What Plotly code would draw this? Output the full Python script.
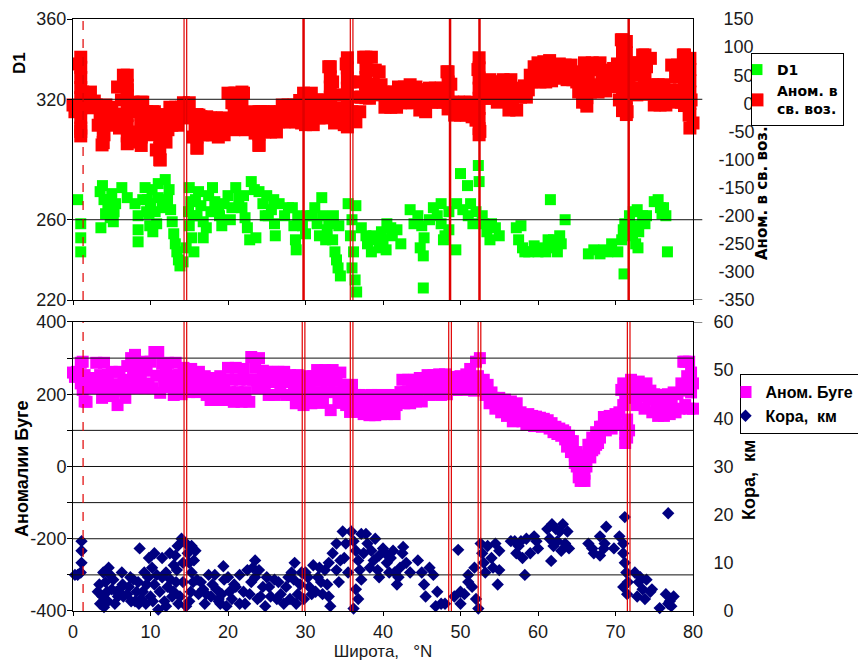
import plotly.graph_objects as go

# ---------------- DATA ----------------
# common latitude grid of the two gravity profiles (deg N)
profile_lat = [
    0.0, 0.25, 0.5, 0.75, 1.0, 1.25, 1.5, 1.75, 2.0, 2.25, 2.5, 2.75, 3.0, 3.25, 3.5, 3.75,
    4.0, 4.25, 4.5, 4.75, 5.0, 5.25, 5.5, 5.75, 6.0, 6.25, 6.5, 6.75, 7.0, 7.25, 7.5, 7.75,
    8.0, 8.25, 8.5, 8.75, 9.0, 9.25, 9.5, 9.75, 10.0, 10.25, 10.5, 10.75, 11.0, 11.25, 11.5, 11.75,
    12.0, 12.25, 12.5, 12.75, 13.0, 13.25, 13.5, 13.75, 14.0, 14.25, 14.5, 14.75, 15.0, 15.25, 15.5, 15.75,
    16.0, 16.25, 16.5, 16.75, 17.0, 17.25, 17.5, 17.75, 18.0, 18.25, 18.5, 18.75, 19.0, 19.25, 19.5, 19.75,
    20.0, 20.25, 20.5, 20.75, 21.0, 21.25, 21.5, 21.75, 22.0, 22.25, 22.5, 22.75, 23.0, 23.25, 23.5, 23.75,
    24.0, 24.25, 24.5, 24.75, 25.0, 25.25, 25.5, 25.75, 26.0, 26.25, 26.5, 26.75, 27.0, 27.25, 27.5, 27.75,
    28.0, 28.25, 28.5, 28.75, 29.0, 29.25, 29.5, 29.75, 30.0, 30.25, 30.5, 30.75, 31.0, 31.25, 31.5, 31.75,
    32.0, 32.25, 32.5, 32.75, 33.0, 33.25, 33.5, 33.75, 34.0, 34.25, 34.5, 34.75, 35.0, 35.25, 35.5, 35.75,
    36.0, 36.25, 36.5, 36.75, 37.0, 37.25, 37.5, 37.75, 38.0, 38.25, 38.5, 38.75, 39.0, 39.25, 39.5, 39.75,
    40.0, 40.25, 40.5, 40.75, 41.0, 41.25, 41.5, 41.75, 42.0, 42.25, 42.5, 42.75, 43.0, 43.25, 43.5, 43.75,
    44.0, 44.25, 44.5, 44.75, 45.0, 45.25, 45.5, 45.75, 46.0, 46.25, 46.5, 46.75, 47.0, 47.25, 47.5, 47.75,
    48.0, 48.25, 48.5, 48.75, 49.0, 49.25, 49.5, 49.75, 50.0, 50.25, 50.5, 50.75, 51.0, 51.25, 51.5, 51.75,
    52.0, 52.25, 52.5, 52.75, 53.0, 53.25, 53.5, 53.75, 54.0, 54.25, 54.5, 54.75, 55.0, 55.25, 55.5, 55.75,
    56.0, 56.25, 56.5, 56.75, 57.0, 57.25, 57.5, 57.75, 58.0, 58.25, 58.5, 58.75, 59.0, 59.25, 59.5, 59.75,
    60.0, 60.25, 60.5, 60.75, 61.0, 61.25, 61.5, 61.75, 62.0, 62.25, 62.5, 62.75, 63.0, 63.25, 63.5, 63.75,
    64.0, 64.25, 64.5, 64.75, 65.0, 65.25, 65.5, 65.75, 66.0, 66.25, 66.5, 66.75, 67.0, 67.25, 67.5, 67.75,
    68.0, 68.25, 68.5, 68.75, 69.0, 69.25, 69.5, 69.75, 70.0, 70.25, 70.5, 70.75, 71.0, 71.25, 71.5, 71.75,
    72.0, 72.25, 72.5, 72.75, 73.0, 73.25, 73.5, 73.75, 74.0, 74.25, 74.5, 74.75, 75.0, 75.25, 75.5, 75.75,
    76.0, 76.25, 76.5, 76.75, 77.0, 77.25, 77.5, 77.75, 78.0, 78.25, 78.5, 78.75, 79.0, 79.25, 79.5, 79.75,
    80.0,
]

# free-air anomaly (right axis of the upper panel)
free_air = [
    -3, -15, -10, 70, -50, 20, 18, -6, 6, 20, -8, 4, -3, -39, -21, -74,
    -56, -3, -39, -21, -7, -33, -19, 29, -44, 6, 50, -30, 24, -56, -3, 2,
    -51, -15, -69, -33, 2, -51, -15, -56, -35, -15, -15, -83, -39, -101, -62, -26,
    -69, -47, -7, -39, -22, -7, -39, -22, -7, 1, -26, -13, 1, -21, -60, -40,
    -79, -21, -24, -56, -40, -24, -56, -26, -56, -40, -26, -60, -40, -26, -56, -40,
    18, -35, 1, -47, 18, -17, 1, -35, 18, -47, -21, -44, -31, -15, -53, -33,
    -74, -15, -15, -51, -33, -15, -51, -33, -15, -51, -33, -15, -3, -33, -17, -3,
    -33, -17, -3, -33, -17, 5, -35, 18, -38, 1, -19, 18, -38, 1, 6, -26,
    -12, 6, -26, -12, 65, 11, 38, -35, -15, 15, -30, -8, -38, 70, -20, 38,
    -15, 11, -33, 38, -15, 11, 82, 34, 59, 9, 82, 34, 59, 15, 56, 33,
    20, -7, 6, 20, -7, 6, 20, -7, 29, 1, 15, 29, 1, 15, 33, 1,
    15, 29, 24, -12, 6, 24, -15, 6, 27, 2, 15, 27, 2, 15, 27, 2,
    13, 56, -8, 34, 2, -21, -8, 2, -21, -8, 2, -21, -8, 2, -24, -8,
    -30, 60, -50, 20, 38, 9, 24, 42, 9, 24, 38, 2, 24, 38, 42, 6,
    24, -12, 42, 6, 24, -12, 27, 11, 20, 31, 11, 24, 50, 38, 65, 45,
    72, 38, 56, 74, 38, 56, 76, 40, 68, 45, 56, 70, 45, 58, 68, 42,
    56, 68, 42, 56, 38, 20, 50, 2, 72, 2, 50, 20, 72, 33, 60, 20,
    72, 38, 56, 22, 59, 30, 45, 62, 30, 70, 6, 113, 27, 91, -15, 49,
    72, 27, 50, 15, 72, 27, 86, 43, 65, 20, 80, 33, -3, 15, 33, -3,
    15, 33, -3, 15, 24, 68, 2, 47, 68, 24, 2, 86, 33, 59, -21, 6,
    -35,
]

# additional free-air readings where the profile spikes
free_air_extra_lat = [
    1.0, 1.0, 1.0, 1.0, 1.0, 1.0, 1.0, 1.0, 1.0,
    3.9, 3.9, 3.9, 3.9,
    7.0, 7.0, 7.0, 7.0, 7.0, 7.0, 7.0, 7.0,
    8.8, 8.8, 8.8, 8.8, 8.8,
    11.2, 11.2, 11.2, 11.2, 11.2,
    16.0, 16.0, 16.0, 16.0,
    20.8, 20.8, 20.8, 20.8,
    21.8, 21.8, 21.8, 21.8,
    24.0, 24.0, 24.0, 24.0,
    33.2, 33.2, 33.2, 33.2, 33.2, 33.2,
    35.4, 35.4, 35.4, 35.4, 35.4, 35.4, 35.4, 35.4,
    37.8, 37.8, 37.8, 37.8, 37.8,
    48.4, 48.4, 48.4, 48.4, 48.4,
    52.4, 52.4, 52.4, 52.4, 52.4, 52.4, 52.4, 52.4, 52.4,
    66.3, 66.3, 66.3, 66.3, 66.3,
    70.9, 70.9, 70.9, 70.9, 70.9, 70.9, 70.9, 70.9,
    71.4, 71.4, 71.4, 71.4, 71.4, 71.4, 71.4, 71.4,
    73.8, 73.8, 73.8, 73.8, 73.8,
    78.9, 78.9, 78.9, 78.9, 78.9, 78.9,
    79.6, 79.6, 79.6, 79.6, 79.6, 79.6, 79.6,
    80.3, 80.3, 80.3, 80.3,
]
free_air_extra = [
    82, 64, 46, 28, 10, -8, -26, -44, -58,
    -10, -30, -50, -70,
    50, 32, 14, -4, -22, -40, -58, -72,
    2, -20, -40, -60, -75,
    -20, -40, -60, -80, -100,
    -20, -40, -60, -80,
    18, 0, -18, -36,
    20, 0, -20, -45,
    -15, -35, -55, -75,
    65, 47, 29, 11, -7, -25,
    81, 63, 45, 27, 9, -9, -27, -42,
    82, 64, 46, 28, 10,
    56, 38, 20, 2, -10,
    81, 63, 45, 27, 9, -9, -27, -45, -56,
    70, 50, 30, 10, -5,
    113, 95, 77, 59, 41, 23, 5, -13,
    110, 90, 70, 50, 30, 10, -10, -20,
    86, 68, 50, 32, 16,
    86, 68, 50, 32, 14, -4,
    80, 60, 40, 20, 0, -20, -44,
    10, -10, -30, -46,
]

# D1 (left axis of the upper panel)
d1_lat = [
    0.6, 1.0, 1.0, 1.0,
    3.5, 4.0, 4.5, 5.0, 5.5, 4.2, 3.6, 4.8, 5.2, 3.8, 4.7, 5.3,
    6.3, 7.0, 8.0, 8.4, 8.4, 8.4,
    9.3, 9.6, 9.8, 9.9, 10.3, 10.2, 10.6, 11.0, 11.0, 11.5, 11.9, 9.0, 9.5, 10.0, 10.8,
    12.2, 12.6, 12.8, 13.0, 13.2, 13.4, 13.6, 13.8, 14.2, 14.6, 12.4, 14.9,
    15.0, 15.2, 15.5, 15.0, 15.3, 15.6, 15.8, 16.0,
    16.2, 16.5, 16.8, 17.2, 16.8, 17.5, 17.8,
    18.0, 18.3, 18.8, 18.9, 19.2, 19.5, 20.3,
    20.0, 20.5, 21.0, 21.4, 21.8, 22.2, 22.5, 22.8, 22.0,
    23.0, 23.4, 23.6,
    24.0, 24.5, 25.0, 25.6, 25.2, 26.1, 26.6, 27.3, 24.8, 25.9, 26.0, 27.8,
    28.3, 28.5, 28.7, 28.8, 29.0, 29.3, 29.6, 30.0, 30.2,
    30.8, 31.5, 31.8, 32.1, 32.2, 32.6, 33.0, 33.5, 33.6, 33.8, 34.0, 34.2, 34.3, 34.5, 31.2, 32.8,
    35.5, 35.8, 36.0, 36.2, 36.0, 36.4, 36.5, 36.6,
    37.8, 38.0, 38.5, 39.2, 39.5, 39.8, 40.0, 40.4, 37.2, 38.8,
    40.5, 41.0, 41.2, 41.8, 42.3,
    43.5, 44.5, 45.0, 45.3, 44.8, 45.2, 45.2, 44.0,
    46.5, 47.0, 47.5, 47.5, 48.0, 47.8, 48.5, 48.5, 46.0,
    49.4, 49.5, 50.0, 50.3, 50.9, 51.0, 51.6, 52.0, 52.3, 52.4, 52.8, 51.3,
    53.0, 53.4, 53.8, 54.5, 55.0, 54.0,
    57.2, 57.5, 57.8, 58.0, 58.3, 59.5, 60.0, 60.5, 58.8, 61.0,
    61.3, 61.6, 61.8, 62.5, 62.8, 63.0, 63.5, 62.0,
    66.5, 67.2, 68.0, 68.5, 69.0, 69.5, 70.3, 70.8, 71.0, 71.2, 71.1,
    71.8, 72.3, 72.8, 73.5, 74.0, 72.5, 73.0, 72.2, 72.6, 72.9, 73.8,
    75.0, 75.5, 76.2, 76.5, 76.0, 76.7, 75.8,
]
d1_val = [
    270, 258, 251, 244,
    274, 270, 266, 273, 268, 263, 256, 261, 259, 277, 270, 264,
    276, 271, 268, 262, 255, 249,
    276, 270, 263, 257, 254, 275, 264, 271, 278, 266, 280, 270, 264, 268, 258,
    270, 265, 259, 253, 248, 244, 240, 237, 239, 246, 275, 264,
    276, 269, 262, 257, 251, 244, 270, 262,
    274, 267, 259, 256, 251, 272, 264,
    276, 269, 266, 262, 257, 268, 260,
    272, 266, 276, 271, 266, 261, 256, 250, 272,
    279, 275, 251,
    274, 268, 272, 265, 262, 252, 268, 262, 262, 270, 258, 266,
    266, 257, 250, 245, 262, 261, 257, 253, 262,
    262, 258, 252, 271, 262, 250, 258, 250, 262, 244, 240, 236, 257, 232, 266, 255,
    268, 252, 260, 244, 236, 230, 267, 224,
    252, 248, 244, 250, 246, 254, 250, 245, 256, 252,
    258, 256, 252, 255, 248,
    265, 262, 257, 251, 246, 242, 226, 258,
    266, 262, 268, 258, 252, 250, 264, 255, 260,
    245, 268, 283, 265, 277, 262, 258, 264, 287, 279, 262, 268,
    258, 254, 250, 256, 252, 258,
    256, 250, 257, 246, 244, 247, 244, 246, 244, 244,
    250, 270, 246, 244, 252, 248, 260, 250,
    243, 245, 243, 245, 244, 248, 244, 250, 255, 258, 233,
    262, 264, 265, 262, 262, 257, 254, 252, 248, 246, 258,
    269, 270, 266, 262, 263, 244, 266,
]

# Bouguer anomaly (left axis of the lower panel)
bouguer = [
    260, 248, 262, 250, 287, 212, 253, 179, 245, 217, 232, 245, 287, 220, 253, 190,
    287, 220, 253, 200, 262, 195, 228, 170, 262, 210, 240, 190, 278, 217, 300, 248,
    309, 217, 278, 248, 290, 217, 265, 230, 290, 217, 317, 251, 317, 204, 284, 230,
    260, 287, 220, 253, 198, 287, 220, 253, 200, 273, 217, 245, 206, 270, 225, 250,
    206, 262, 220, 240, 250, 198, 226, 184, 245, 200, 226, 184, 250, 195, 226, 184,
    273, 206, 240, 179, 273, 206, 240, 179, 270, 206, 240, 179, 303, 240, 273, 217,
    300, 240, 265, 217, 262, 198, 234, 262, 198, 234, 262, 205, 234, 262, 198, 234,
    253, 198, 226, 175, 253, 198, 226, 170, 250, 198, 226, 175, 250, 198, 267, 206,
    237, 176, 267, 206, 237, 156, 267, 206, 237, 176, 260, 200, 226, 170, 198, 151,
    226, 170, 198, 151, 198, 165, 145, 195, 170, 142, 198, 170, 142, 198, 170, 145,
    195, 168, 145, 198, 162, 190, 145, 170, 195, 206, 240, 175, 206, 240, 175, 210,
    240, 180, 206, 245, 180, 215, 245, 253, 198, 226, 253, 200, 226, 255, 198, 226,
    255, 200, 245, 212, 230, 248, 212, 230, 250, 212, 232, 255, 217, 270, 240, 210,
    290, 250, 300, 215, 240, 198, 226, 175, 205, 190, 160, 175, 190, 150, 170, 185,
    140, 165, 180, 125, 160, 175, 140, 150, 125, 140, 115, 145, 125, 140, 112, 138,
    120, 135, 110, 132, 118, 128, 105, 120, 95, 110, 90, 105, 85, 100, 75, 80,
    60, 70, 40, 30, 0, -30, -40, -20, -40, 0, 30, 60, 45, 75, 60, 90,
    80, 110, 137, 100, 125, 140, 105, 130, 145, 115, 150, 212, 170, 90, 130, 190,
    240, 200, 225, 170, 235, 195, 220, 160, 230, 185, 210, 150, 200, 175, 140, 170,
    198, 140, 175, 200, 145, 180, 205, 150, 200, 160, 230, 290, 170, 250, 290, 205,
    160,
]

# additional Bouguer readings where the profile is steep or broad
bouguer_extra_lat = [
    1.0, 1.25, 1.5,
    63.5, 63.75, 64.0, 64.25, 64.5, 64.75, 65.0, 65.25, 65.5, 65.75,
    66.0, 66.25, 66.5, 66.75, 67.0, 67.25, 67.5, 67.75, 68.0,
    71.0, 71.25, 71.25, 71.5, 71.75,
    79.0, 79.25, 79.5, 79.75, 80.0, 80.25, 80.5,
]
bouguer_extra = [
    230, 290, 180,
    95, 55, 85, 40, 70, 10, 40, 10, -10, 10,
    -20, 30, 60, 25, 80, 50, 95, 65, 110,
    230, 200, 65, 80, 100,
    290, 210, 160, 260, 230, 175, 200,
]

# crust thickness, km (right axis of the lower panel)
crust_lat = [
    0.25, 0.6, 1.1, 1.1, 1.1, 1.0,
    3.4, 3.8, 4.2, 4.5, 5.0, 5.4, 3.5, 4.8, 3.9, 4.6, 3.2, 4.0, 4.4, 5.2, 5.6,
    5.8, 6.0, 6.3, 6.5, 6.4,
    7.2, 7.5, 7.8, 8.2, 8.5, 8.6, 8.8, 9.5, 10.0, 9.2, 7.0, 7.4, 8.0, 8.4, 9.0, 9.4, 9.7,
    9.8, 10.2, 10.5, 10.8, 11.0, 10.5, 10.3, 11.2,
    11.5, 11.8, 12.0, 12.2, 12.5, 12.8, 13.0, 13.2, 13.3, 13.5, 13.6, 14.0,
    11.5, 12.0, 12.6, 13.0, 13.4, 13.8, 14.2, 14.2,
    14.6, 14.6, 14.8, 15.0, 15.0, 15.2, 15.3, 15.3, 15.5, 15.6, 15.8,
    16.2, 16.5, 17.2, 17.5, 18.0, 18.8, 18.8, 19.0, 19.4, 19.5, 19.8, 20.2,
    16.0, 16.8, 17.0, 17.8, 18.3, 18.5, 19.2, 20.0, 20.5, 20.8,
    21.0, 21.5, 21.5, 22.0, 22.2, 22.5, 23.0, 23.2, 23.5, 23.8, 24.0, 24.5, 24.8, 25.0, 25.5, 26.0, 26.5, 26.3,
    22.8, 23.5, 24.2, 25.3, 26.8,
    27.2, 27.5, 28.0, 28.2, 28.5, 28.6, 29.0, 29.5, 27.8, 28.8, 29.3, 29.8,
    30.0, 30.5, 30.8, 31.0, 31.6, 32.0, 32.5, 33.0, 33.0, 33.2, 33.5, 34.0, 34.0, 34.5, 34.8, 35.2,
    30.3, 31.3, 31.8, 32.2, 32.8, 34.3, 35.0, 35.5,
    35.9, 36.2, 36.5, 36.8, 37.0, 37.2, 36.5, 36.8, 36.2, 37.2,
    37.8, 38.0, 38.3, 38.5, 39.0, 39.3, 39.5, 39.5, 40.0, 40.3, 40.5, 37.5, 38.8,
    41.0, 41.5, 41.8, 42.0, 42.5, 42.6, 43.0, 43.5, 40.8, 41.3, 42.2,
    44.5, 45.0, 45.3, 45.5, 46.0,
    46.5, 47.0, 47.5, 46.8, 48.0,
    49.2, 49.7, 50.0, 50.0, 50.5, 51.0, 51.0, 51.5, 51.8, 52.0, 52.3,
    52.6, 52.8, 53.0, 53.2, 53.5, 54.0, 54.2, 54.5, 54.8, 55.0, 55.0,
    56.5, 57.0, 57.2, 57.5, 57.8, 58.0, 58.3, 58.5, 59.0, 59.5, 59.8, 60.0,
    61.2, 61.5, 61.7, 61.8, 62.0, 62.3, 62.5, 62.8, 63.0, 63.2, 63.5, 63.8, 64.0,
    66.5, 67.0, 67.2, 68.0, 68.0, 68.5, 68.6, 68.8, 69.8, 70.5,
    71.0, 71.2, 71.0, 71.2, 71.4, 71.6, 71.0, 71.5,
    72.5, 72.8, 73.0, 73.2, 73.5, 73.8, 74.0, 74.5, 74.7, 75.7,
    76.5, 76.8, 76.8, 77.0, 77.2, 77.5,
]
crust_km = [
    7.5, 7.5, 14.5, 12.5, 10, 8,
    5.5, 3, 6, 2, 4.5, 1.5, 1.5, 7.5, 8, 9, 4, 0.8, 4, 6.5, 4,
    3, 4.5, 8, 3, 5.5,
    5, 2, 6.5, 4, 1.5, 13, 2.5, 5.5, 3, 8, 3.5, 7, 2, 6, 4, 1.5, 7,
    11, 9, 12, 7.5, 0.3, 5.5, 2, 4,
    11, 2, 8, 5, 12, 3, 9.5, 11.5, 6, 13.5, 1.5, 15,
    7, 1, 6.5, 4, 8.5, 3, 6, 10,
    14, 1, 12, 10, 2, 4, 8, 13.5, 6, 10.5, 12.5,
    3.5, 6, 3.5, 7.5, 5.5, 2.5, 2, 1.5, 9.3, 6.5, 1, 4,
    6.5, 4.5, 1.5, 3, 7.5, 4.5, 3.5, 7, 2.5, 5.5,
    5, 7.5, 1.5, 4, 1.5, 8.5, 6, 9, 10.5, 2.5, 8.5, 5, 1, 7, 3, 6.5, 6, 2.5,
    3.5, 7, 3, 5, 3.5,
    1.5, 5, 2.5, 8, 6.5, 10, 3.5, 8, 7, 1.5, 5.5, 2.5,
    8, 5, 3.5, 9.5, 7, 6, 8.5, 10, 3, 1, 12, 8.5, 14, 10.5, 16.5, 14,
    7, 4, 9, 3.5, 5.5, 6, 11, 8,
    16.5, 14.5, 12.5, 10.5, 8.5, 6.5, 4.5, 2.5, 0.5, 16,
    16, 14, 9, 12.5, 15, 8.5, 11.5, 7, 13, 12, 10, 12, 10.5,
    11, 8, 5.5, 7, 12, 13.3, 10, 8, 8, 12.5, 9,
    10.5, 8, 5.5, 3, 9,
    7.5, 4, 1.5, 1, 1.5,
    3, 12.7, 4, 1.5, 3.5, 6, 7.5, 5, 9, 2.5, 0.5,
    14, 12, 10, 8, 13.5, 11, 9, 14, 5.5, 12.5, 8.5,
    14.5, 14.5, 12, 13.5, 14.5, 11, 7.5, 15, 12, 15.5, 14.5, 13,
    17, 15, 10.4, 18, 13.5, 17, 14.5, 16.5, 12.5, 18, 14, 16.5, 13,
    14, 13, 12, 15.5, 11.5, 13, 14, 17.5, 13, 15.5,
    14, 19.5, 12, 10, 8, 6, 5, 3.5,
    8, 3, 6, 7, 4.5, 2.5, 6.5, 4, 4.5, 0.6,
    3.5, 1.5, 20.3, 2, 1, 3,
]

# boundary latitudes marked with red verticals
boundary_dashed = [1.3]
boundary_lat = [14.5, 29.75, 35.95, 48.65, 52.45, 71.7]
boundary_bold_top = [29.75, 48.65, 52.45, 71.7]

# tick labels
d1_ticks = [220, 260, 320, 360]
fa_ticks = [-350, -300, -250, -200, -150, -100, -50, 0, 50, 100, 150]
bouguer_ticks = [-400, -300, -200, -100, 0, 100, 200, 300, 400]
bouguer_tick_labels = ["-400", "", "-200", "", "0", "", "200", "", "400"]
crust_ticks = [0, 10, 20, 30, 40, 50, 60]
lat_ticks = [0, 10, 20, 30, 40, 50, 60, 70, 80]

# ---------------- FIGURE ----------------
NB = "\u00a0"


def pad_left(labels, width):
    out = []
    for s in labels:
        s = str(s)
        n_digits = sum(c.isdigit() for c in s)
        has_minus = s.startswith("-")
        cur = n_digits * 0.556 + (0.333 if has_minus else 0)
        pad = int(round((width - cur) / 0.278))
        out.append(NB * max(pad, 0) + s)
    return out


TICK_FONT = dict(family="Liberation Sans, Arial, sans-serif", size=18, color="#1a1a1a")
RED = "#ff0000"
LINE_RED = "#e00000"

fig = go.Figure()

fig.add_trace(go.Scatter(
    x=d1_lat, y=d1_val, mode="markers", name="D1",
    marker=dict(symbol="square", size=11, color="#00ff00", line=dict(width=0)),
    xaxis="x", yaxis="y", legend="legend", cliponaxis=False,
))
fig.add_trace(go.Scatter(
    x=profile_lat, y=free_air, mode="markers", name="Аном. в<br>св. воз.",
    marker=dict(symbol="square", size=13, color=RED, line=dict(width=0)),
    xaxis="x", yaxis="y2", legend="legend", cliponaxis=False,
))
fig.add_trace(go.Scatter(
    x=free_air_extra_lat, y=free_air_extra, mode="markers", showlegend=False,
    marker=dict(symbol="square", size=13, color=RED, line=dict(width=0)),
    xaxis="x", yaxis="y2", cliponaxis=False, hoverinfo="skip",
))
fig.add_trace(go.Scatter(
    x=profile_lat, y=bouguer, mode="markers", name="Аном. Буге",
    marker=dict(symbol="square", size=12, color="#ff00ff", line=dict(width=0)),
    xaxis="x2", yaxis="y3", legend="legend2", cliponaxis=False,
))
fig.add_trace(go.Scatter(
    x=bouguer_extra_lat, y=bouguer_extra, mode="markers", showlegend=False,
    marker=dict(symbol="square", size=12, color="#ff00ff", line=dict(width=0)),
    xaxis="x2", yaxis="y3", cliponaxis=False, hoverinfo="skip",
))
fig.add_trace(go.Scatter(
    x=crust_lat, y=crust_km, mode="markers", name="Кора,\u00a0\u00a0км",
    marker=dict(symbol="diamond", size=9.5, color="#000080", line=dict(width=0)),
    xaxis="x2", yaxis="y4", legend="legend2", cliponaxis=False,
))

TOP_DOM = [0.5253, 1.0]
BOT_DOM = [0.0, 0.4882]

axis_common = dict(showline=True, linecolor="black", linewidth=1, zeroline=False,
                   showgrid=False, tickfont=TICK_FONT, automargin=False)

fig.update_layout(
    width=858, height=661,
    margin=dict(l=73, r=165, t=19, b=50, autoexpand=False),
    paper_bgcolor="white", plot_bgcolor="white",
    xaxis=dict(domain=[0, 1], anchor="y", range=[0, 80], tickvals=lat_ticks,
               showticklabels=False, ticks="outside", ticklen=4, tickcolor="black",
               mirror=True, **axis_common),
    yaxis=dict(domain=TOP_DOM, anchor="x", range=[220, 360], tickvals=d1_ticks,
               ticks="outside", ticklen=5, tickcolor="black", mirror=True,
               ticklabelstandoff=-3, **axis_common),
    yaxis2=dict(overlaying="y", side="right", anchor="x", range=[-350, 150],
                tickvals=fa_ticks, ticktext=pad_left(fa_ticks, 2.0),
                ticks="", ticklabelstandoff=21, **axis_common),
    xaxis2=dict(domain=[0, 1], anchor="y3", range=[0, 80], tickvals=lat_ticks,
                ticks="outside", ticklen=4, tickcolor="black", mirror=True,
                title=dict(text="Широта,\u00a0\u00a0\u00a0°N", standoff=2,
                           font=dict(family="Liberation Sans, Arial, sans-serif", size=17, color="#1a1a1a")),
                **axis_common),
    yaxis3=dict(domain=BOT_DOM, anchor="x2", range=[-400, 400], tickvals=bouguer_ticks,
                ticktext=bouguer_tick_labels, ticks="outside", ticklen=5, tickcolor="black",
                mirror=True, ticklabelstandoff=-3, **axis_common),
    yaxis4=dict(overlaying="y3", side="right", anchor="x2", range=[0, 60],
                tickvals=crust_ticks, ticktext=pad_left(crust_ticks, 1.112),
                ticks="", ticklabelstandoff=16, **axis_common),
    legend=dict(x=1.0935, y=0.9426, xanchor="left", yanchor="top",
                bgcolor="white", bordercolor="black", borderwidth=1,
                font=dict(family="DejaVu Sans, sans-serif", size=14, color="black", weight="bold"),
                itemwidth=30, indentation=-15, tracegroupgap=0),
    legend2=dict(x=1.075, y=0.4003, xanchor="left", yanchor="top",
                 bgcolor="white", bordercolor="black", borderwidth=1,
                 font=dict(family="Liberation Sans, Arial, sans-serif", size=16, color="black", weight="bold"),
                 itemwidth=30, indentation=-15, tracegroupgap=0),
    showlegend=True,
)

# rotated axis captions
bold_lib = dict(family="Liberation Sans, Arial, sans-serif", size=17, color="black", weight="bold")
fig.add_annotation(text="D1", xref="paper", yref="paper", x=-0.0855, y=0.9257,
                   textangle=-90, showarrow=False, xanchor="center", yanchor="middle", font=bold_lib)
fig.add_annotation(text="Аном. в св. воз.", xref="paper", yref="paper", x=1.1113, y=0.7061,
                   textangle=-90, showarrow=False, xanchor="center", yanchor="middle",
                   font=dict(family="DejaVu Sans, sans-serif", size=15, color="black", weight="bold"))
fig.add_annotation(text="Аномалии Буге", xref="paper", yref="paper", x=-0.0823, y=0.2416,
                   textangle=-90, showarrow=False, xanchor="center", yanchor="middle",
                   font=dict(family="Liberation Sans, Arial, sans-serif", size=18, color="black", weight="bold"))
fig.add_annotation(text="Кора,\u00a0\u00a0км", xref="paper", yref="paper", x=1.0903, y=0.2213,
                   textangle=-90, showarrow=False, xanchor="center", yanchor="middle",
                   font=dict(family="Liberation Sans, Arial, sans-serif", size=18, color="black", weight="bold"))

shapes = []
for v in d1_ticks[1:3]:
    shapes.append(dict(type="line", xref="x domain", yref="y", x0=0, x1=1.015, y0=v, y1=v,
                       line=dict(color="#111111", width=1), layer="above"))
shapes.append(dict(type="line", xref="x domain", yref="y", x0=1.0, x1=1.015, y0=220, y1=220,
                   line=dict(color="#111111", width=1), layer="above"))
for v in bouguer_ticks[1:-1]:
    shapes.append(dict(type="line", xref="x2 domain", yref="y3", x0=0, x1=1, y0=v, y1=v,
                       line=dict(color="#111111", width=1), layer="above"))
shapes.append(dict(type="line", xref="x2 domain", yref="y3", x0=1.0, x1=1.015, y0=400, y1=400,
                   line=dict(color="#111111", width=1), layer="above"))

for lat in boundary_dashed:
    for xr, yr in (("x", "y domain"), ("x2", "y3 domain")):
        shapes.append(dict(type="line", xref=xr, yref=yr, x0=lat, x1=lat, y0=0, y1=1,
                           line=dict(color=LINE_RED, width=1.2, dash="dash"), layer="above"))
for lat in boundary_lat:
    for d in (-0.17, 0.17):
        shapes.append(dict(type="line", xref="x2", yref="y3 domain", x0=lat + d, x1=lat + d,
                           y0=0, y1=1, line=dict(color=LINE_RED, width=1.2), layer="above"))
    if lat in boundary_bold_top:
        shapes.append(dict(type="line", xref="x", yref="y domain", x0=lat, x1=lat, y0=0, y1=1,
                           line=dict(color=LINE_RED, width=2.5), layer="above"))
    else:
        for d in (-0.17, 0.17):
            shapes.append(dict(type="line", xref="x", yref="y domain", x0=lat + d, x1=lat + d,
                               y0=0, y1=1, line=dict(color=LINE_RED, width=1.2), layer="above"))

fig.update_layout(shapes=shapes)

# the page's default 8px body margin would push the 858x661 figure out of the window
fig.write_html(
    "out.html",
    config={"displayModeBar": False},
    post_script="document.body.style.margin='0';document.body.style.overflow='hidden';",
)
